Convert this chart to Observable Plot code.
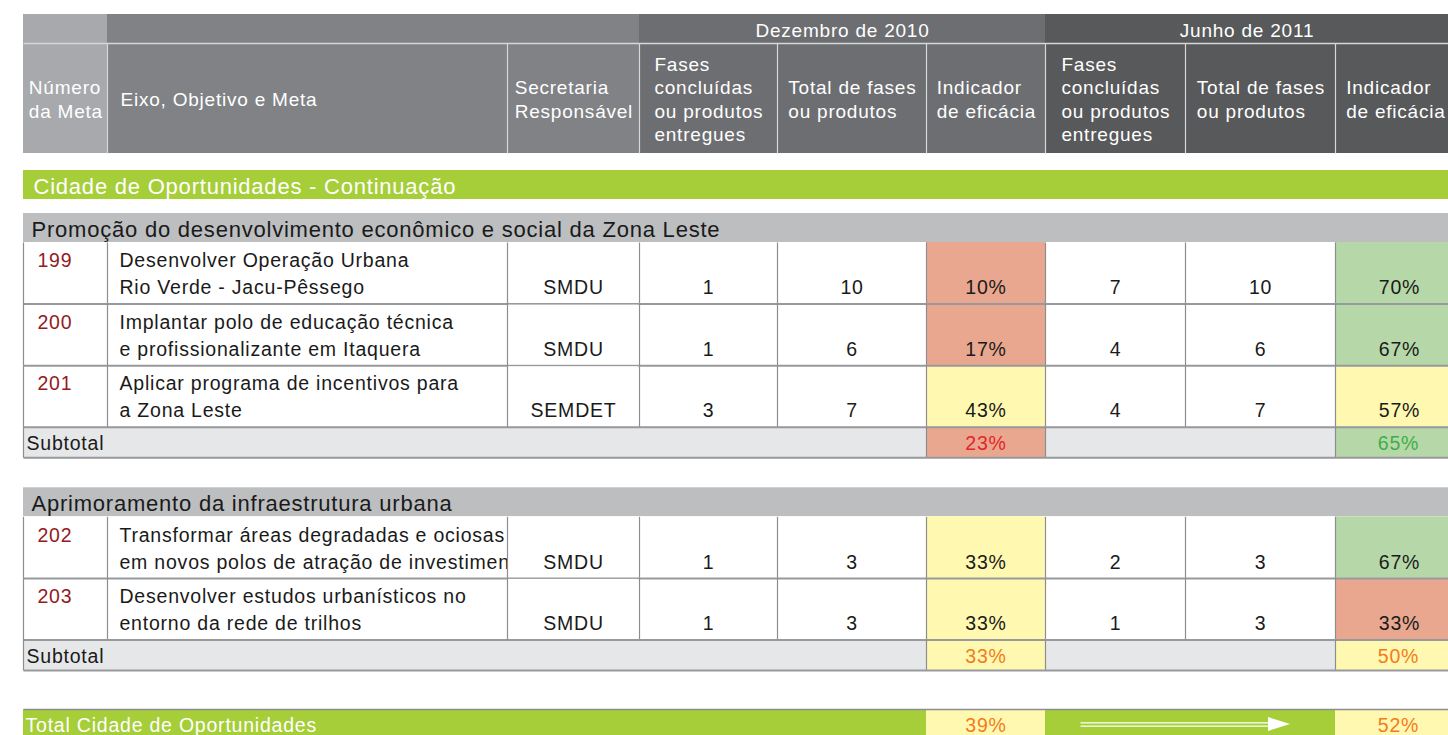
<!DOCTYPE html>
<html><head><meta charset="utf-8">
<script src="https://cdn.jsdelivr.net/npm/d3@7"></script>
<script src="https://cdn.jsdelivr.net/npm/@observablehq/plot@0.6"></script>
<style>html,body{margin:0;padding:0;background:#fff;overflow:hidden;} svg{display:block}</style>
</head><body><div id="chart"></div>
<script>
// ---------------- DATA ----------------
const periodLabels = ["Dezembro de 2010", "Junho de 2011"];
const headerLabels = ["Número\nda Meta", "Eixo, Objetivo e Meta", "Secretaria\nResponsável",
  "Fases\nconcluídas\nou produtos\nentregues", "Total de fases\nou produtos", "Indicador\nde eficácia",
  "Fases\nconcluídas\nou produtos\nentregues", "Total de fases\nou produtos", "Indicador\nde eficácia"];
const eixoTitle = "Cidade de Oportunidades - Continuação";
const objetivos = ["Promoção do desenvolvimento econômico e social da Zona Leste", "Aprimoramento da infraestrutura urbana"];
const metaNum = ["199", "200", "201", "202", "203"];
const metaObjetivo = [0, 0, 0, 1, 1];
const metaLinha1 = ["Desenvolver Operação Urbana", "Implantar polo de educação técnica", "Aplicar programa de incentivos para", "Transformar áreas degradadas e ociosas", "Desenvolver estudos urbanísticos no"];
const metaLinha2 = ["Rio Verde - Jacu-Pêssego", "e profissionalizante em Itaquera", "a Zona Leste", "em novos polos de atração de investimento", "entorno da rede de trilhos"];
const secretaria = ["SMDU", "SMDU", "SEMDET", "SMDU", "SMDU"];
const dezConcluidas = [1, 1, 3, 1, 1];
const dezTotal = [10, 6, 7, 3, 3];
const dezIndicador = [10, 17, 43, 33, 33];
const junConcluidas = [7, 4, 4, 2, 1];
const junTotal = [10, 6, 7, 3, 3];
const junIndicador = [70, 67, 57, 67, 33];
const subtotalDez = [23, 33];
const subtotalJun = [65, 50];
const totalLabel = "Total Cidade de Oportunidades";
const totalDez = 39;
const totalJun = 52;

// ---------------- STYLE / LAYOUT ----------------
const FONT = '"Liberation Sans", Arial, Helvetica, sans-serif';
const LS = 0.78; // letter spacing (px)
const W = 1448, H = 735;
const colX = [23, 107, 507, 639, 777, 926, 1045, 1185, 1335, 1455];
const GREEN = "#a6ce39", SECTION = "#bcbec0", SUBBG = "#e6e7e8";
const cellFill = {baixo: "#e9a78f", medio: "#fff8b0", alto: "#b6d8a8"};
const subText = {baixo: "#e3262b", medio: "#f47c20", alto: "#3fae49"};
const statusDez = v => v < 30 ? "baixo" : v < 60 ? "medio" : "alto";
const statusJun = v => v < 50 ? "baixo" : v < 60 ? "medio" : "alto";

const rects = [], lines = [], texts = [], overRects = [], overLines = [];
const rect = (x1, x2, y1, y2, fill, arr = rects) => arr.push({x1, x2, y1, y2, fill});
const line = (x1, y1, x2, y2, stroke, w, arr = lines) => arr.push({x1, y1, x2, y2, stroke, w});
const text = (x, y, t, o = {}) => texts.push({x, y, t, anchor: o.anchor || "start", fill: o.fill || "#1a1a1a", size: o.size ?? 19.5, layer: o.layer ?? 1});

const ctx = document.createElement("canvas").getContext("2d");
const measure = (s, size) => { ctx.font = `${size}px ${FONT}`; return Math.max(...s.split("\n").map(l => ctx.measureText(l).width + LS * (l.length - 1))); };
const mid = i => (colX[i] + colX[i + 1]) / 2;

// Header
const hTop = 14, hMid = 43, hBot = 153, HS = 19;
rect(colX[0], colX[1], hTop, hBot, "#a7a9ac");
rect(colX[1], colX[3], hTop, hBot, "#808285");
rect(colX[3], colX[6], hTop, hBot, "#6d6e71");
rect(colX[6], colX[9], hTop, hBot, "#58595b");
line(colX[0], hMid, colX[9], hMid, "#d6d7d8", 1.5);
for (let i = 1; i < 9; i++) line(colX[i], hMid, colX[i], hBot, "#d6d7d8", 1.2);
text((colX[3] + colX[6]) / 2, (hTop + hMid) / 2, periodLabels[0], {anchor: "middle", fill: "#fff", size: HS});
text((colX[6] + 1448) / 2, (hTop + hMid) / 2, periodLabels[1], {anchor: "middle", fill: "#fff", size: HS});
headerLabels.forEach((lab, i) => {
  const x = i === 1 ? colX[1] + 13 : mid(i) - measure(lab, HS) / 2;
  text(x, (hMid + hBot) / 2, lab, {fill: "#fff", size: HS});
});

// Eixo band
rect(colX[0], colX[9], 170, 199, GREEN);
text(colX[0] + 10, 185, eixoTitle, {fill: "#fff", size: 22});

const rowH = 61.6, subH = 30.5;
function section(k, top) {
  rect(colX[0], colX[9], top, top + 29, SECTION);
  text(colX[0] + 8, top + 14.5, objetivos[k], {size: 22});
  let yy = top + 29;
  metaNum.forEach((n, i) => {
    if (metaObjetivo[i] !== k) return;
    const y1 = yy, y2 = yy + rowH;
    rect(colX[0], colX[9], y1, y2, "#fff");
    rect(colX[5], colX[6], y1, y2, cellFill[statusDez(dezIndicador[i])]);
    rect(colX[8], colX[9], y1, y2, cellFill[statusJun(junIndicador[i])]);
    // the Secretaria cell is painted over the description, clipping overflowing text
    rect(colX[2] + 0.6, colX[3] - 0.6, y1 + 1, y2 - 1, "#fff", overRects);
    for (let c = 0; c < 9; c++) line(colX[c], y1, colX[c], y2, "#8c8d90", 1.2, c === 2 ? overLines : lines);
    line(colX[0], y2, colX[9], y2, "#98999c", 2);
    const l1 = y1 + 17, l2 = y1 + 44;
    text(colX[0] + 14, l1, n, {fill: "#931b1e"});
    text(colX[1] + 12, l1, metaLinha1[i], {layer: 0});
    text(colX[1] + 12, l2, metaLinha2[i], {layer: 0});
    text(mid(2), l2, secretaria[i], {anchor: "middle"});
    [dezConcluidas[i], dezTotal[i], dezIndicador[i] + "%", junConcluidas[i], junTotal[i], junIndicador[i] + "%"]
      .forEach((v, c) => text(mid(3 + c) + (c === 5 ? 4 : 0), l2, String(v), {anchor: "middle"}));
    yy = y2;
  });
  // subtotal
  const s1 = yy, s2 = yy + subH;
  const sd = statusDez(subtotalDez[k]), sj = statusJun(subtotalJun[k]);
  rect(colX[0], colX[5], s1, s2, SUBBG);
  rect(colX[5], colX[6], s1, s2, cellFill[sd]);
  rect(colX[6], colX[8], s1, s2, SUBBG);
  rect(colX[8], colX[9], s1, s2, cellFill[sj]);
  [0, 5, 6, 8].forEach(c => line(colX[c], s1, colX[c], s2, "#8c8d90", 1.2));
  line(colX[0], s2, colX[9], s2, "#98999c", 2);
  text(colX[0] + 3, (s1 + s2) / 2, "Subtotal");
  text(mid(5), (s1 + s2) / 2, subtotalDez[k] + "%", {anchor: "middle", fill: subText[sd]});
  text(mid(8) + 3, (s1 + s2) / 2, subtotalJun[k] + "%", {anchor: "middle", fill: subText[sj]});
  return s2;
}
const end1 = section(0, 213);
const end2 = section(1, end1 + 30);

// Total row
const t1 = end2 + 39, t2 = t1 + 32, tc = t1 + 15;
const td = statusDez(totalDez), tj = statusJun(totalJun);
rect(colX[0], colX[5], t1, t2, GREEN);
rect(colX[5], colX[6], t1, t2, cellFill[td]);
rect(colX[6], colX[8], t1, t2, GREEN);
rect(colX[8], colX[9], t1, t2, cellFill[tj]);
line(colX[0], t1, colX[9], t1, "#8c8d90", 1.5);
text(colX[0] + 2, tc, totalLabel, {fill: "#fff"});
text(mid(5), tc, totalDez + "%", {anchor: "middle", fill: subText[td]});
text(mid(8) + 3, tc, totalJun + "%", {anchor: "middle", fill: subText[tj]});
// arrow Dez -> Jun
const ax1 = colX[6] + 35, ax2 = colX[8] - 45;
line(ax1, tc - 1.6, ax2 - 14, tc - 1.6, "#fff", 1.3);
line(ax1, tc + 1.6, ax2 - 14, tc + 1.6, "#fff", 1.3);
const head = [{x: ax2 - 22, y1: tc - 7, y2: tc + 7}, {x: ax2, y1: tc, y2: tc}];

// ---------------- PLOT ----------------
const textMarks = layer => ["start", "middle"].map(a => Plot.text(texts.filter(d => d.anchor === a && d.layer === layer), {
  x: "x", y: "y", text: "t", fill: "fill", fontSize: "size", textAnchor: a, lineHeight: 1.24
}));
const rectMark = arr => Plot.rect(arr, {x1: "x1", x2: "x2", y1: "y1", y2: "y2", fill: "fill"});
const linkMark = arr => Plot.link(arr, {x1: "x1", y1: "y1", x2: "x2", y2: "y2", stroke: "stroke", strokeWidth: "w"});

const chart = Plot.plot({
  width: W, height: H,
  marginTop: 0, marginRight: 0, marginBottom: 0, marginLeft: 0,
  x: {domain: [0, W], range: [0, W], axis: null},
  y: {domain: [0, H], range: [0, H], axis: null},
  color: {type: "identity"},
  style: {fontFamily: FONT, background: "#fff", overflow: "hidden", letterSpacing: LS + "px"},
  marks: [
    rectMark(rects),
    linkMark(lines),
    Plot.areaY(head, {x: "x", y1: "y1", y2: "y2", fill: "#fff"}),
    ...textMarks(0),
    rectMark(overRects),
    linkMark(overLines),
    ...textMarks(1)
  ]
});
document.getElementById("chart").appendChild(chart);
</script>
</body></html>
